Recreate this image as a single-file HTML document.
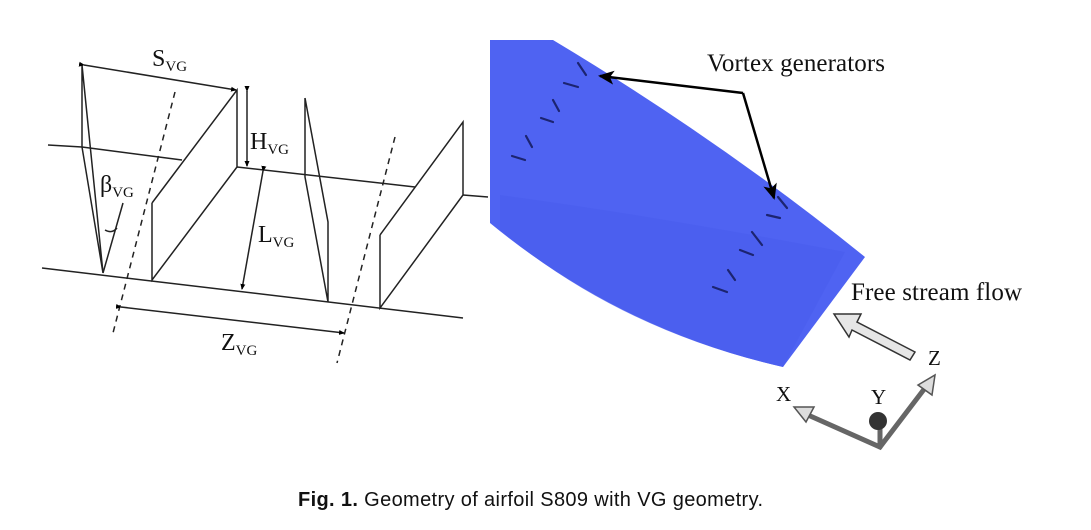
<!DOCTYPE html>
<html><head><meta charset="utf-8"><style>
html,body{margin:0;padding:0;background:#fff;}
svg{display:block;}
</style></head><body>
<svg width="1091" height="530" viewBox="0 0 1091 530" xmlns="http://www.w3.org/2000/svg">
<defs>
<marker id="ahs" markerWidth="6" markerHeight="6" refX="5" refY="3" orient="auto" markerUnits="userSpaceOnUse"><path d="M0,0.5 L6,3 L0,5.5 z" fill="#000"/></marker>
<marker id="bh" markerWidth="16" markerHeight="14" refX="14" refY="7" orient="auto" markerUnits="userSpaceOnUse"><path d="M0,0 L16,7 L0,14 L4,7 z" fill="#000"/></marker>
</defs>
<g stroke="#222" stroke-width="1.5" fill="none">
<polyline points="48,145 82,147"/>
<polyline points="82,147 182,160"/>
<polyline points="237,167 415,187"/>
<polyline points="463,195 488,197"/>
<line x1="42" y1="268" x2="463" y2="318"/>
<polyline points="82,65 82,147 103,273 82,65"/>
<line x1="103" y1="273" x2="123" y2="203"/>
<path d="M105,230 Q112,234 117,228"/>
<polyline points="152,203 152,280 237,167 237,90 152,203"/>
<polyline points="305,98 305,177 328,302 328,222 305,98"/>
<polyline points="380,235 380,308 463,195 463,122 380,235"/>
<line x1="175" y1="92" x2="113" y2="333" stroke-dasharray="6,5"/>
<line x1="395" y1="137" x2="337" y2="363" stroke-dasharray="6,5"/>
<line x1="84" y1="65" x2="236" y2="90" marker-end="url(#ahs)" marker-start="url(#ahs)"/>
<line x1="247" y1="91" x2="247" y2="166" marker-end="url(#ahs)" marker-start="url(#ahs)"/>
<line x1="263" y1="171" x2="242" y2="289" marker-end="url(#ahs)" marker-start="url(#ahs)"/>
<line x1="121" y1="307" x2="344" y2="333" marker-end="url(#ahs)" marker-start="url(#ahs)"/>
</g>
<g font-family="Liberation Serif, serif" fill="#111" font-size="24">
<text x="152" y="66">S<tspan font-size="15" dy="5">VG</tspan></text>
<text x="250" y="149">H<tspan font-size="15" dy="5">VG</tspan></text>
<text x="258" y="242">L<tspan font-size="15" dy="5">VG</tspan></text>
<text x="100" y="192">β<tspan font-size="15" dy="5">VG</tspan></text>
<text x="221" y="350">Z<tspan font-size="15" dy="5">VG</tspan></text>
</g>
<path d="M490,40 L553,40 Q720,140 865,257 L783,367 Q620,330 490,223 Z" fill="#4f63f2"/>
<path d="M500,195 Q650,215 845,252 L783,367 Q620,330 500,230 Z" fill="#4a5eee" opacity="0.7"/>
<g stroke="#1c2470" stroke-width="2.2" stroke-linecap="round">
<line x1="578" y1="63" x2="586" y2="75"/><line x1="564" y1="83" x2="578" y2="87"/>
<line x1="553" y1="100" x2="559" y2="111"/><line x1="541" y1="118" x2="553" y2="122"/>
<line x1="526" y1="136" x2="532" y2="147"/><line x1="512" y1="156" x2="525" y2="160"/>
<line x1="778" y1="197" x2="787" y2="208"/><line x1="767" y1="215" x2="780" y2="218"/>
<line x1="752" y1="232" x2="762" y2="245"/><line x1="740" y1="250" x2="753" y2="255"/>
<line x1="728" y1="270" x2="735" y2="280"/><line x1="713" y1="287" x2="727" y2="292"/>
</g>
<g stroke="#000" stroke-width="2.5" fill="none">
<line x1="743" y1="93" x2="600" y2="76" marker-end="url(#bh)"/>
<line x1="743" y1="93" x2="774" y2="198" marker-end="url(#bh)"/>
</g>
<g font-family="Liberation Serif, serif" fill="#111" font-size="25">
<text x="707" y="71" textLength="178">Vortex generators</text>
<text x="851" y="300" textLength="171">Free stream flow</text>
<text x="776" y="401" font-size="21">X</text>
<text x="871" y="404" font-size="21">Y</text>
<text x="928" y="365" font-size="21">Z</text>
</g>
<path d="M915,352 L857,322 L861,314 L834,314 L849,337 L852,330 L910,360 Z" fill="#e6e6e6" stroke="#333" stroke-width="1.5"/>
<g stroke="#666" stroke-width="5" fill="none" stroke-linecap="round">
<polyline points="808,415 880,447 925,388"/>
<line x1="880" y1="447" x2="880" y2="425"/>
</g>
<path d="M794,407 L814,407 L806,422 Z" fill="#ddd" stroke="#555" stroke-width="1.5"/>
<path d="M935,375 L932,395 L918,385 Z" fill="#ddd" stroke="#555" stroke-width="1.5"/>
<circle cx="878" cy="421" r="9" fill="#333"/>
<text x="298" y="506" textLength="465" font-family="Liberation Sans, sans-serif" font-size="20" fill="#111"><tspan font-weight="bold">Fig. 1.</tspan> Geometry of airfoil S809 with VG geometry.</text>
</svg>
</body></html>
